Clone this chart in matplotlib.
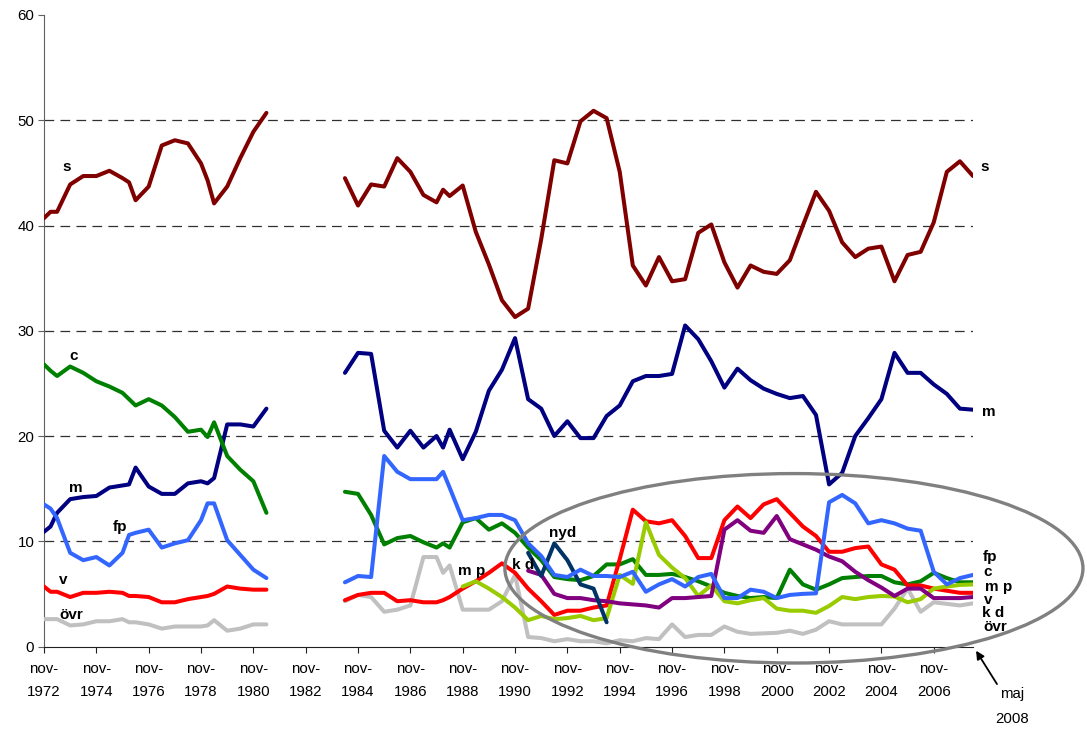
import numpy as np
import matplotlib
matplotlib.use("Agg")
import matplotlib.pyplot as plt
from matplotlib.patches import Ellipse

plt.rcParams['font.family'] = ['Liberation Sans', 'DejaVu Sans']
plt.rcParams['lines.scale_dashes'] = False

# ---------------- data ----------------
dates_1 = ["1972-11", "1973-02", "1973-05", "1973-11", "1974-05", "1974-11", "1975-05",
           "1975-11", "1976-02", "1976-05", "1976-11", "1977-05", "1977-11", "1978-05",
           "1978-11", "1979-02", "1979-05", "1979-11", "1980-05", "1980-11", "1981-05"]
dates_2 = ["1984-05", "1984-11", "1985-05", "1985-11", "1986-05", "1986-11", "1987-05",
           "1987-11", "1988-02", "1988-05", "1988-11", "1989-05", "1989-11", "1990-05",
           "1990-11", "1991-05", "1991-11", "1992-05", "1992-11", "1993-05", "1993-11",
           "1994-05", "1994-11", "1995-05", "1995-11", "1996-05", "1996-11", "1997-05",
           "1997-11", "1998-05", "1998-11", "1999-05", "1999-11", "2000-05", "2000-11",
           "2001-05", "2001-11", "2002-05", "2002-11", "2003-05", "2003-11", "2004-05",
           "2004-11", "2005-05", "2005-11", "2006-05", "2006-11", "2007-05", "2007-11",
           "2008-05"]

s_1 = [40.7, 41.3, 41.3, 43.9, 44.7, 44.7, 45.2, 44.5, 44.1, 42.4, 43.7, 47.6, 48.1, 47.8,
       45.9, 44.3, 42.1, 43.7, 46.4, 48.9, 50.7]
m_1 = [10.9, 11.4, 12.7, 14.0, 14.2, 14.3, 15.1, 15.3, 15.4, 17.0, 15.2, 14.5, 14.5, 15.5,
       15.7, 15.5, 16.0, 21.1, 21.1, 20.9, 22.6]
c_1 = [26.8, 26.2, 25.7, 26.6, 26.0, 25.2, 24.7, 24.1, 23.5, 22.9, 23.5, 22.9, 21.8, 20.4,
       20.6, 19.9, 21.3, 18.1, 16.8, 15.7, 12.7]
fp_1 = [13.5, 13.1, 12.2, 8.9, 8.2, 8.5, 7.7, 8.9, 10.6, 10.8, 11.1, 9.4, 9.8, 10.1,
        12.0, 13.6, 13.6, 10.1, 8.7, 7.3, 6.5]
v_1 = [5.7, 5.2, 5.2, 4.7, 5.1, 5.1, 5.2, 5.1, 4.8, 4.8, 4.7, 4.2, 4.2, 4.5,
       4.7, 4.8, 5.0, 5.7, 5.5, 5.4, 5.4]
ovr_1 = [2.6, 2.6, 2.6, 2.0, 2.1, 2.4, 2.4, 2.6, 2.3, 2.3, 2.1, 1.7, 1.9, 1.9,
         1.9, 2.0, 2.5, 1.5, 1.7, 2.1, 2.1]

s_2 = [44.5, 41.9, 43.9, 43.7, 46.4, 45.1, 42.9, 42.2, 43.4, 42.8,
       43.8, 39.4, 36.3, 32.9, 31.3, 32.1, 38.7, 46.2, 45.9, 49.9,
       50.9, 50.2, 45.1, 36.2, 34.3, 37.0, 34.7, 34.9, 39.3, 40.1,
       36.5, 34.1, 36.2, 35.6, 35.4, 36.7, 40.0, 43.2, 41.4, 38.4,
       37.0, 37.8, 38.0, 34.7, 37.2, 37.5, 40.3, 45.1, 46.1, 44.7]
m_2 = [26.0, 27.9, 27.8, 20.5, 18.9, 20.5, 18.9, 20.0, 18.9, 20.6,
       17.8, 20.4, 24.3, 26.3, 29.3, 23.5, 22.6, 20.0, 21.4, 19.8,
       19.8, 21.9, 22.9, 25.2, 25.7, 25.7, 25.9, 30.5, 29.2, 27.1,
       24.6, 26.4, 25.3, 24.5, 24.0, 23.6, 23.8, 22.0, 15.4, 16.5,
       20.0, 21.7, 23.5, 27.9, 26.0, 26.0, 24.9, 24.0, 22.6, 22.5]
c_2 = [14.7, 14.5, 12.5, 9.7, 10.3, 10.5, 9.9, 9.4, 9.8, 9.4,
       11.8, 12.2, 11.1, 11.7, 10.8, 9.4, 8.2, 6.6, 6.4, 6.3,
       6.7, 7.8, 7.8, 8.3, 6.8, 6.8, 6.9, 6.6, 6.2, 5.7,
       5.1, 4.8, 4.6, 4.7, 4.6, 7.3, 5.9, 5.4, 5.9, 6.5,
       6.6, 6.7, 6.7, 6.1, 5.9, 6.2, 7.0, 6.5, 6.1, 6.1]
fp_2 = [6.1, 6.7, 6.6, 18.1, 16.6, 15.9, 15.9, 15.9, 16.6, 15.1,
        12.0, 12.2, 12.5, 12.5, 12.0, 9.8, 8.6, 6.8, 6.6, 7.3,
        6.7, 6.7, 6.6, 7.1, 5.2, 5.9, 6.4, 5.7, 6.6, 6.9,
        4.6, 4.6, 5.4, 5.2, 4.6, 4.9, 5.0, 5.05, 13.7, 14.4,
        13.6, 11.7, 12.0, 11.7, 11.2, 11.0, 7.1, 5.9, 6.5, 6.8]
v_2 = [4.4, 4.9, 5.1, 5.1, 4.3, 4.4, 4.2, 4.2, 4.4, 4.7,
       5.5, 6.2, 7.0, 7.9, 7.0, 5.5, 4.3, 3.0, 3.4, 3.4,
       3.7, 3.9, 8.3, 13.0, 11.9, 11.7, 12.0, 10.5, 8.4, 8.4,
       12.0, 13.3, 12.2, 13.5, 14.0, 12.7, 11.4, 10.5, 9.0, 9.0,
       9.35, 9.5, 7.8, 7.3, 5.8, 5.8, 5.5, 5.3, 5.1, 5.1]
mp_2 = [None] * 10 + [5.7, 6.2, 5.5, 4.7, 3.7, 2.5, 2.9, 2.6, 2.7, 2.9,
                      2.5, 2.7, 6.8, 5.95, 11.8, 8.7, 7.5, 6.5, 4.8, 5.8,
                      4.3, 4.1, 4.4, 4.6, 3.6, 3.4, 3.4, 3.2, 3.85, 4.7,
                      4.5, 4.7, 4.8, 4.75, 4.2, 4.5, 5.5, 5.7, 5.85, 5.9]
kd_2 = [None] * 15 + [7.2, 6.8, 5.0, 4.6, 4.6, 4.4, 4.3, 4.1, 4.0, 3.9,
                      3.7, 4.6, 4.6, 4.7, 4.8, 11.1, 12.0, 11.0, 10.8, 12.4,
                      10.2, 9.7, 9.2, 8.55, 8.1, 7.1, 6.3, 5.6, 4.8, 5.5,
                      5.5, 4.6, 4.6, 4.6, 4.7]
nyd_2 = [None] * 15 + [8.9, 6.7, 9.8, 8.2, 5.9, 5.5, 2.3] + [None] * 28
ovr_2 = [4.3, 4.9, 4.7, 3.3, 3.5, 3.9, 8.5, 8.5, 7.0, 7.7,
         3.5, 3.5, 3.5, 4.3, 6.8, 0.9, 0.8, 0.5, 0.7, 0.5,
         0.5, 0.3, 0.6, 0.5, 0.8, 0.7, 2.1, 0.9, 1.1, 1.1,
         1.9, 1.4, 1.2, 1.25, 1.3, 1.5, 1.2, 1.6, 2.4, 2.1,
         2.1, 2.1, 2.1, 3.6, 5.5, 3.3, 4.2, 4.05, 3.9, 4.1]

tick_years = list(range(1972, 2008, 2))


def to_year(d):
    y, mth = d.split("-")
    return int(y) + (int(mth) - 1) / 12.0


x1 = np.array([to_year(d) for d in dates_1])
x2 = np.array([to_year(d) for d in dates_2])


def arr(v):
    return np.array([np.nan if a is None else a for a in v], dtype=float)


# ---------------- figure ----------------
fig = plt.figure(figsize=(10.87, 7.31), dpi=100)
ax = fig.add_axes([44 / 1087, 84.5 / 731, (973 - 44) / 1087, (646.5 - 15) / 731])

for g in [10, 20, 30, 40, 50]:
    ax.axhline(g, color="#303030", lw=0.9, ls=(0, (7.0, 4.5)), zorder=0)

series = [
    ("övr", ovr_1, ovr_2, "#C0C0C0"),
    ("s", s_1, s_2, "#800000"),
    ("m", m_1, m_2, "#000080"),
    ("c", c_1, c_2, "#008000"),
    ("v", v_1, v_2, "#FF0000"),
    ("mp", None, mp_2, "#99CC00"),
    ("kd", None, kd_2, "#800080"),
    ("nyd", None, nyd_2, "#003366"),
    ("fp", fp_1, fp_2, "#3366FF"),
]
for name, p1, p2, col in series:
    if p1 is not None:
        ax.plot(x1, arr(p1), color=col, lw=2.9, solid_joinstyle="round",
                solid_capstyle="round", zorder=3)
    ax.plot(x2, arr(p2), color=col, lw=2.9, solid_joinstyle="round",
            solid_capstyle="round", zorder=3)

x0 = 1972 + 10 / 12
ax.set_xlim(x0, 2008 + 4 / 12)
ax.set_ylim(0, 60)
ax.set_yticks(range(0, 61, 10))
ax.set_xticks([y + 10 / 12 for y in tick_years])
ax.set_xticklabels([f"nov-\n{y}" for y in tick_years], linespacing=1.85)

for sp in ["top", "right"]:
    ax.spines[sp].set_visible(False)
ax.spines["left"].set_color("#606060")
ax.spines["bottom"].set_color("#202020")
ax.tick_params(axis="y", length=4, width=0.8, color="#606060", pad=3,
               labelsize=10.8, labelcolor="black")
ax.tick_params(axis="x", length=4, width=0.8, color="#202020", pad=7,
               labelsize=10.8, labelcolor="black")

# series labels
lab = dict(fontsize=11, fontweight="bold", color="black", ha="center",
           va="center", zorder=6)
ax.text(1973.71, 45.6, "s", **lab)
ax.text(1973.98, 27.6, "c", **lab)
ax.text(1974.05, 15.1, "m", **lab)
ax.text(1975.74, 11.4, "fp", **lab)
ax.text(1973.57, 6.3, "v", **lab)
ax.text(1973.89, 3.0, "övr", **lab)
ax.text(1989.17, 7.2, "m p", **lab)
ax.text(1991.15, 7.7, "k d", **lab)
ax.text(1992.67, 10.8, "nyd", **lab)

rl = dict(lab, clip_on=False)
ax.text(2008.79, 45.6, "s", **rl)
ax.text(2008.92, 22.3, "m", **rl)
ax.text(2008.98, 8.5, "fp", **rl)
ax.text(2008.88, 7.1, "c", **rl)
ax.text(2009.30, 5.7, "m p", **rl)
ax.text(2008.92, 4.45, "v", **rl)
ax.text(2009.11, 3.2, "k d", **rl)
ax.text(2009.17, 1.9, "övr", **rl)

# ellipse
ell = Ellipse((2001.49, 7.43), width=22.09, height=18.0, fill=False,
              edgecolor="#808080", lw=2.4, clip_on=False, zorder=7)
ax.add_patch(ell)

# arrow and "maj 2008"
ax.annotate("", xy=(2008.45, -0.4), xytext=(2009.25, -3.57),
            arrowprops=dict(arrowstyle="-|>", color="black", lw=1.3,
                            mutation_scale=12, shrinkA=0, shrinkB=0),
            annotation_clip=False)
fig.text(1012 / 1087, 1 - 694 / 731, "maj", ha="center", va="center", fontsize=10.8)
fig.text(1012 / 1087, 1 - 719 / 731, "2008", ha="center", va="center", fontsize=10.8)

fig.savefig("out.png", dpi=100)
